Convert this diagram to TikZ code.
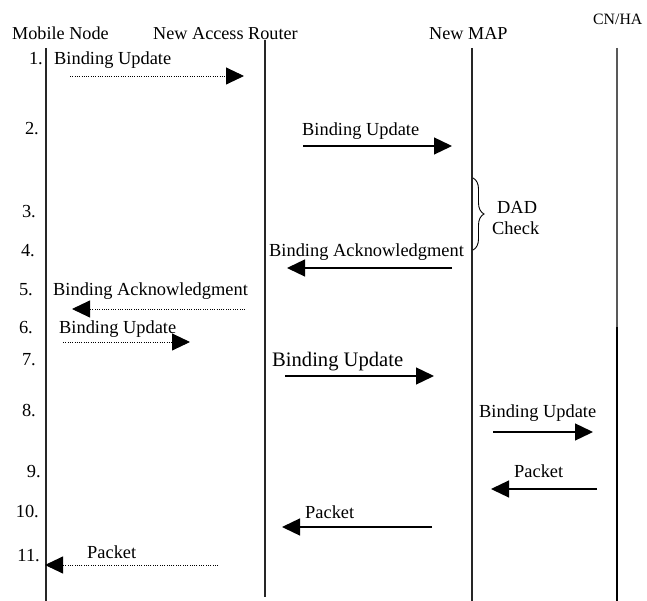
\documentclass[tikz,border=0pt]{standalone}
\usepackage{fontspec}
\setmainfont{Liberation Serif}
\usetikzlibrary{arrows.meta,decorations.pathreplacing}

\begin{document}
\begin{tikzpicture}[x=1pt,y=-1pt,
  lifeline/.style={line width=1.2pt,draw=black!85},
  msg/.style={line width=1.3pt,-{Triangle[length=18pt,width=17pt]}},
  dmsg/.style={line width=0.9pt,dash pattern=on 0.9pt off 1.4pt,
               -{Triangle[length=18pt,width=17pt]}},
  lbl/.style={anchor=base west,inner sep=0pt,font=\fontsize{18.4}{22}\selectfont},
  biglbl/.style={anchor=base west,inner sep=0pt,font=\fontsize{20.6}{24}\selectfont},
  num/.style={anchor=base east,inner sep=0pt,font=\fontsize{18.4}{22}\selectfont},
  head/.style={anchor=base west,inner sep=0pt,font=\fontsize{18.2}{22}\selectfont}]
\useasboundingbox (0,0) rectangle (647,601);

% entity headings
\node[head] (hmn)  at (12,40)  {Mobile Node};
\node[head] (hnar) at (153,40) {New Access Router};
\node[head] (hmap) at (429,40) {New MAP};
\node[anchor=base west,inner sep=0pt,font=\fontsize{15.8}{19}\selectfont] (hcn) at (593,25) {CN/HA};

% lifelines
\coordinate (mnT) at (46,48);   \coordinate (mnB) at (46,601);
\coordinate (narT) at (265,40); \coordinate (narB) at (265,597);
\coordinate (mapT) at (472,48); \coordinate (mapB) at (472,601);
\coordinate (cnT) at (617,48);  \coordinate (cnM) at (617,327); \coordinate (cnB) at (617,601);
\draw[lifeline] (mnT) -- (mnB);
\draw[lifeline] (narT) -- (narB);
\draw[lifeline] (mapT) -- (mapB);
\draw[lifeline,draw=black!65] (cnT) -- (cnM);
\draw[lifeline,draw=black] (cnM) -- (cnB);

% step numbers
\node[num] (n1)  at (43,65)  {1.};
\node[num] (n2)  at (39,135) {2.};
\node[num] (n3)  at (36,218) {3.};
\node[num] (n4)  at (35,257) {4.};
\node[num] (n5)  at (33,295) {5.};
\node[num] (n6)  at (33,333) {6.};
\node[num] (n7)  at (36,365) {7.};
\node[num] (n8)  at (36,416) {8.};
\node[num] (n9)  at (41,477) {9.};
\node[num] (n10) at (39,517) {10.};
\node[num] (n11) at (40,561) {11.};

% message labels
\node[lbl] (t1)  at (54,65)   {Binding Update};
\node[lbl] (t2)  at (302,136) {Binding Update};
\node[lbl] (t4)  at (269,257) {Binding Acknowledgment};
\node[lbl] (t5)  at (53,295)  {Binding Acknowledgment};
\node[lbl] (t6)  at (59,333)  {Binding Update};
\node[biglbl] (t7) at (272,366) {Binding Update};
\node[lbl] (t8)  at (479,417) {Binding Update};
\node[lbl] (t9)  at (514,477) {Packet};
\node[lbl] (t10) at (305,518) {Packet};
\node[lbl] (t11) at (87,558)  {Packet};

% message end points
\coordinate (a1s) at (70,76);   \coordinate (a1e) at (244,76);
\coordinate (a2s) at (303,146); \coordinate (a2e) at (452,146);
\coordinate (a4s) at (452,268); \coordinate (a4e) at (287,268);
\coordinate (a5s) at (245,309); \coordinate (a5e) at (72,309);
\coordinate (a6s) at (63,342);  \coordinate (a6e) at (190,342);
\coordinate (a7s) at (285,376); \coordinate (a7e) at (434,376);
\coordinate (a8s) at (493,432); \coordinate (a8e) at (593,432);
\coordinate (a9s) at (597,489); \coordinate (a9e) at (491,489);
\coordinate (a10s) at (432,527); \coordinate (a10e) at (282,527);
\coordinate (a11s) at (218,565); \coordinate (a11e) at (45,565);

\draw[dmsg] (a1s) -- (a1e);
\draw[msg]  (a2s) -- (a2e);
\draw[msg]  (a4s) -- (a4e);
\draw[dmsg] (a5s) -- (a5e);
\draw[dmsg] (a6s) -- (a6e);
\draw[msg]  (a7s) -- (a7e);
\draw[msg]  (a8s) -- (a8e);
\draw[msg]  (a9s) -- (a9e);
\draw[msg]  (a10s) -- (a10e);
\draw[dmsg] (a11s) -- (a11e);

% duplicate address detection interval
\coordinate (brT) at (473,178);
\coordinate (brB) at (473,250);
\draw[line width=0.9pt,decorate,decoration={brace,amplitude=11pt}] (brT) -- (brB);
\node[lbl] (dad) at (497,214) {DAD};
\node[lbl] (chk) at (492,235) {Check};
\end{tikzpicture}
\end{document}
